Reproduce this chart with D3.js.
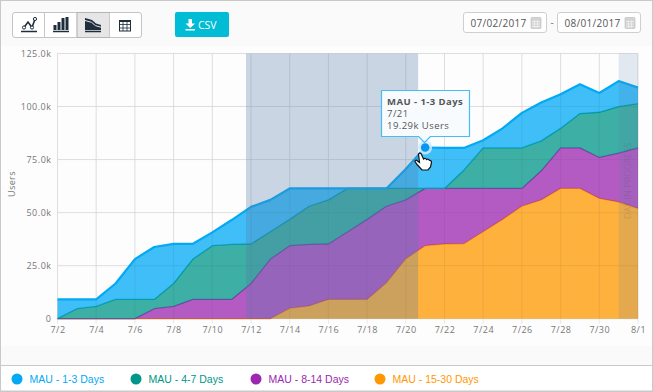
<!DOCTYPE html>
<html>
<head>
<meta charset="utf-8">
<script src="https://cdn.jsdelivr.net/npm/d3@7"></script>
<style>
html, body { margin: 0; padding: 0; background: #fff; }
svg { display: block; font-family: "Open Sans", "DejaVu Sans", sans-serif; }
</style>
</head>
<body>
<svg id="chart" width="653" height="392"></svg>
<script>
// days on the x axis
const days = ["7/2","7/3","7/4","7/5","7/6","7/7","7/8","7/9","7/10","7/11","7/12","7/13","7/14","7/15","7/16","7/17",
    "7/18","7/19","7/20","7/21","7/22","7/23","7/24","7/25","7/26","7/27","7/28","7/29","7/30","7/31","8/1"];

// users per day in thousands
const mau1to3 = [9.1,4.4,3.3,7.5,19,24.7,18.7,7.2,6.3,11.5,17.5,15,14.6,8.4,5.4,0,0,0,9.2,19.29,19.1,10.5,3.6,9.2,16.5,18.1,16.1,13.8,9.1,12,7.5];
const mau4to7 = [0,4.7,5.8,9.1,9.1,4.4,10.8,19,25.3,25.9,18.6,12.9,12.4,18,20.8,20.4,14.6,8.4,5.4,0,0,8.6,19.1,19.1,19.1,14.1,9.2,16.2,21.3,22,20.9];
const mau8to14 = [0,0,0,0,0,4.7,5.8,9.1,9.1,9.1,16.6,28.1,29.5,29,26.1,31.9,37.7,36.1,27.8,27,26.2,26.1,20.4,14.6,8.4,13.7,19.1,19.1,19.3,23,28.5];
const mau15to30 = [0,0,0,0,0,0,0,0,0,0,0,0,4.9,6,9.1,9.1,9.1,16.9,28.2,34.4,35.2,35.3,41,46.8,53,56,61.4,61.4,56.7,55,52];

const seriesNames = ["MAU - 1-3 Days", "MAU - 4-7 Days", "MAU - 8-14 Days", "MAU - 15-30 Days"];
const seriesColors = ["#03a9f4", "#009688", "#9c27b0", "#ff9800"];
const yTicks = [0, 25, 50, 75, 100, 125];
const xTicks = days.filter((d, i) => i % 2 === 0);
const dateRange = ["07/02/2017", "08/01/2017"];

const svg = d3.select("#chart");
const width = 653, height = 392;
const margin = { top: 53.5, right: 15, bottom: 73.3, left: 57.5 };

// page frame
svg.append("rect").attr("width", width).attr("height", height).attr("fill", "#c9c9c9");
svg.append("rect").attr("x", 1).attr("y", 1).attr("width", width - 2).attr("height", 364).attr("fill", "#fafafa");
svg.append("rect").attr("x", 1).attr("y", 46).attr("width", width - 2).attr("height", 300).attr("fill", "#fdfdfd");
svg.append("rect").attr("x", 1).attr("y", 366).attr("width", width - 2).attr("height", 24.5).attr("fill", "#fff");

const x = d3.scalePoint().domain(days).range([margin.left, width - margin.right]);
const y = d3.scaleLinear().domain([0, 125]).range([height - margin.bottom, margin.top]);

// grid
const grid = svg.append("g").attr("stroke", "#e8e8e8").attr("stroke-width", 1);
grid.selectAll("line.h").data(yTicks).join("line")
    .attr("class", "h")
    .attr("x1", margin.left).attr("x2", width - margin.right)
    .attr("y1", d => y(d)).attr("y2", d => y(d));
grid.selectAll("line.v").data(xTicks).join("line")
    .attr("class", "v")
    .attr("x1", d => x(d)).attr("x2", d => x(d))
    .attr("y1", margin.top).attr("y2", y(0) + 5);

// stacked areas, 15-30 days sits at the bottom
const rows = days.map((d, i) => ({
    day: d,
    [seriesNames[0]]: mau1to3[i],
    [seriesNames[1]]: mau4to7[i],
    [seriesNames[2]]: mau8to14[i],
    [seriesNames[3]]: mau15to30[i]
}));
const stacked = d3.stack().keys(seriesNames.slice().reverse())(rows);
const color = d3.scaleOrdinal().domain(seriesNames).range(seriesColors);

const area = d3.area().x(d => x(d.data.day)).y0(d => y(d[0])).y1(d => y(d[1]));
const topLine = d3.line().x(d => x(d.data.day)).y(d => y(d[1]));

const layers = svg.append("g").selectAll("g").data(stacked).join("g");
layers.append("path").attr("d", area).attr("fill", d => color(d.key)).attr("fill-opacity", 0.76);
layers.append("path").attr("d", topLine).attr("fill", "none").attr("stroke", d => color(d.key))
    .attr("stroke-width", d => d.key === seriesNames[0] ? 2.2 : 1.3).attr("stroke-linejoin", "round");

// grid shows faintly through the fills
const gridOver = svg.append("g").attr("stroke", "#777").attr("stroke-opacity", 0.08);
gridOver.selectAll("line.v").data(xTicks).join("line").attr("class", "v")
    .attr("x1", d => x(d)).attr("x2", d => x(d)).attr("y1", margin.top).attr("y2", y(0));
gridOver.selectAll("line.h").data(yTicks).join("line").attr("class", "h")
    .attr("x1", margin.left).attr("x2", width - margin.right).attr("y1", d => y(d)).attr("y2", d => y(d));

// shaded ranges
svg.append("rect")
    .attr("x", x("7/12") - 5).attr("width", x("7/21") - x("7/12") - 2)
    .attr("y", margin.top).attr("height", y(0) - margin.top)
    .attr("fill", "rgb(85,122,168)").attr("fill-opacity", 0.3);
svg.append("rect")
    .attr("x", x("7/31")).attr("width", x("8/1") - x("7/31"))
    .attr("y", margin.top).attr("height", y(0) - margin.top)
    .attr("fill", "rgb(85,122,168)").attr("fill-opacity", 0.16);

svg.append("text").text("DAY IN PROGRESS")
    .attr("transform", `translate(${x("7/31") + 12.5},219)rotate(-90)`)
    .attr("font-size", 9).attr("fill", "#444").attr("fill-opacity", 0.18);

// axes
const yAxis = d3.axisLeft(y).tickValues(yTicks).tickSize(0).tickPadding(6)
    .tickFormat(d => d === 0 ? "0" : d.toFixed(1) + "k");
const xAxis = d3.axisBottom(x).tickValues(xTicks).tickSize(0).tickPadding(8);
const yG = svg.append("g").attr("transform", `translate(${margin.left},0)`).call(yAxis);
const xG = svg.append("g").attr("transform", `translate(0,${y(0)})`).call(xAxis);
[yG, xG].forEach(g => {
    g.select(".domain").remove();
    g.selectAll("text").attr("font-size", 9).attr("font-family", "Open Sans")
        .attr("letter-spacing", 0.5).attr("fill", "#777");
});
svg.append("text").text("Users")
    .attr("transform", "translate(15,197)rotate(-90)")
    .attr("font-size", 9).attr("letter-spacing", 0.4).attr("fill", "#777");

// hover marker and tooltip
const hoverDay = "7/21";
const hoverX = x(hoverDay);
const hoverY = y(d3.sum([mau1to3, mau4to7, mau8to14, mau15to30], s => s[days.indexOf(hoverDay)]));
svg.append("circle").attr("cx", hoverX).attr("cy", hoverY).attr("r", 7).attr("fill", "#cdebfa").attr("fill-opacity", 0.85);
svg.append("circle").attr("cx", hoverX).attr("cy", hoverY).attr("r", 4.3).attr("fill", "#0a96f0");

const tip = svg.append("g");
tip.append("path")
    .attr("d", "M381.5,90.5 H469.5 V136.5 H430.5 L424.5,142.5 L418.5,136.5 H381.5 Z")
    .attr("fill", "#f8fbfd").attr("stroke", "#45bdf5").attr("stroke-width", 1.2).attr("stroke-linejoin", "round");
tip.append("text").text("MAU - 1-3 Days").attr("x", 387).attr("y", 105)
    .attr("font-size", 9.5).attr("font-weight", 700).attr("letter-spacing", 0.45).attr("fill", "#555");
tip.append("text").text("7/21").attr("x", 387).attr("y", 116.5)
    .attr("font-size", 9.5).attr("letter-spacing", 0.45).attr("fill", "#555");
tip.append("text").text("19.29k Users").attr("x", 387).attr("y", 128.5)
    .attr("font-size", 9.5).attr("letter-spacing", 0.45).attr("fill", "#555");

// hand cursor
svg.append("path")
    .attr("d", "M418.5,154 C419.5,152.5 421,153 421.5,154.5 L423.5,159 C424.5,158 426,158.5 426.5,159.5 C427.5,158.8 429,159.2 429.3,160.3 C430.5,160 431.5,161 431.5,162.5 L430.5,167 L428,170 H422 L417.5,165 L415,161.5 C415,160 416.5,159.8 417.5,161 L419.5,162.5 Z")
    .attr("fill", "#fff").attr("stroke", "#111").attr("stroke-width", 1.2);

// toolbar
const btnX = [44.5, 77, 109.5];
svg.append("rect").attr("x", 12.5).attr("y", 12.5).attr("width", 129).attr("height", 25).attr("rx", 2.5)
    .attr("fill", "#fff").attr("stroke", "#c4c4c4");
svg.append("rect").attr("x", 77).attr("y", 12.5).attr("width", 32.5).attr("height", 25)
    .attr("fill", "#e6e6e6").attr("stroke", "#b5b5b5");
svg.selectAll("line.sep").data(btnX).join("line").attr("class", "sep")
    .attr("x1", d => d).attr("x2", d => d).attr("y1", 13).attr("y2", 37).attr("stroke", "#c9c9c9");

const ink = "#1f2d3d";
const icons = svg.append("g").attr("fill", "none").attr("stroke", ink);
icons.append("path").attr("d", "M21,31.5H37").attr("stroke-width", 1.5);
icons.append("path").attr("d", "M24,27.5 L28,22 L32,27.5 L35,19").attr("stroke-width", 1.6);
[[24, 27.5], [32, 27.5], [35, 19]].forEach(p => {
    icons.append("circle").attr("cx", p[0]).attr("cy", p[1]).attr("r", 1.6).attr("fill", "#fff").attr("stroke-width", 1);
});
icons.append("path").attr("d", "M53,31.5H69").attr("stroke-width", 1.5);
[[53.5, 5], [57.5, 8], [61.5, 12], [65.5, 13]].forEach(b => {
    icons.append("rect").attr("x", b[0]).attr("y", 30 - b[1]).attr("width", 3)
        .attr("height", b[1]).attr("fill", ink).attr("stroke", "none");
});
icons.append("path").attr("d", "M85,31.5H101").attr("stroke-width", 1.5);
icons.append("path").attr("d", "M85,18 L92,20 L96,23.5 L101,25 V30 H85 Z").attr("fill", ink).attr("stroke", "none");
icons.append("path").attr("d", "M85,20.5 L91.5,22.3 L95.5,25.7 L101,27.2").attr("stroke", "#e6e6e6").attr("stroke-width", 1);
icons.append("rect").attr("x", 119.5).attr("y", 21).attr("width", 11).attr("height", 10).attr("stroke-width", 1);
icons.append("path").attr("d", "M119,21H131").attr("stroke-width", 2);
icons.append("path").attr("d", "M123,21V31M127,21V31M120,24.5H131M120,28H131").attr("stroke-width", 0.8);

// csv button
svg.append("rect").attr("x", 175).attr("y", 12).attr("width", 54).attr("height", 25).attr("rx", 2).attr("fill", "#00bcd4");
svg.append("path").attr("d", "M188.5,19 H192 V23.5 H195 L190.2,28 L185.5,23.5 H188.5 Z M185.5,29 H195 V30.5 H185.5 Z").attr("fill", "#fff");
svg.append("text").text("CSV").attr("x", 198).attr("y", 29).attr("font-size", 10.5).attr("fill", "#fff");

// date range inputs
const inputs = svg.selectAll("g.date").data(dateRange).join("g").attr("class", "date")
    .attr("transform", (d, i) => `translate(${i === 0 ? 463.5 : 557.5},12.5)`);
inputs.append("rect").attr("width", 83).attr("height", 20).attr("rx", 2.5).attr("fill", "#fff").attr("stroke", "#cfcfcf");
inputs.append("text").text(d => d).attr("x", 7).attr("y", 14).attr("font-size", 10)
    .attr("letter-spacing", 0.3).attr("fill", "#555");
inputs.append("rect").attr("x", 67.5).attr("y", 5).attr("width", 10).attr("height", 11).attr("rx", 1).attr("fill", "#d4d4d4").attr("stroke", "#bbb").attr("stroke-width", 0.6);
inputs.append("path").attr("d", "M68.5,9H76.5M68.5,11.5H76.5M68.5,14H76.5M71,8V15.5M74,8V15.5").attr("stroke", "#f2f2f2").attr("stroke-width", 0.7);
svg.append("text").text("-").attr("x", 552).attr("y", 26).attr("text-anchor", "middle").attr("font-size", 10).attr("fill", "#777");

// legend
const legendX = [17, 136, 256, 380];
const legend = svg.selectAll("g.legend").data(seriesNames).join("g").attr("class", "legend")
    .attr("transform", (d, i) => `translate(${legendX[i]},379)`);
legend.append("circle").attr("r", 5.5).attr("fill", d => color(d));
legend.append("text").text(d => d).attr("x", 12.5).attr("y", 4).attr("font-size", 10.5)
    .attr("font-family", "Liberation Sans").attr("fill", d => color(d));
</script>
</body>
</html>
